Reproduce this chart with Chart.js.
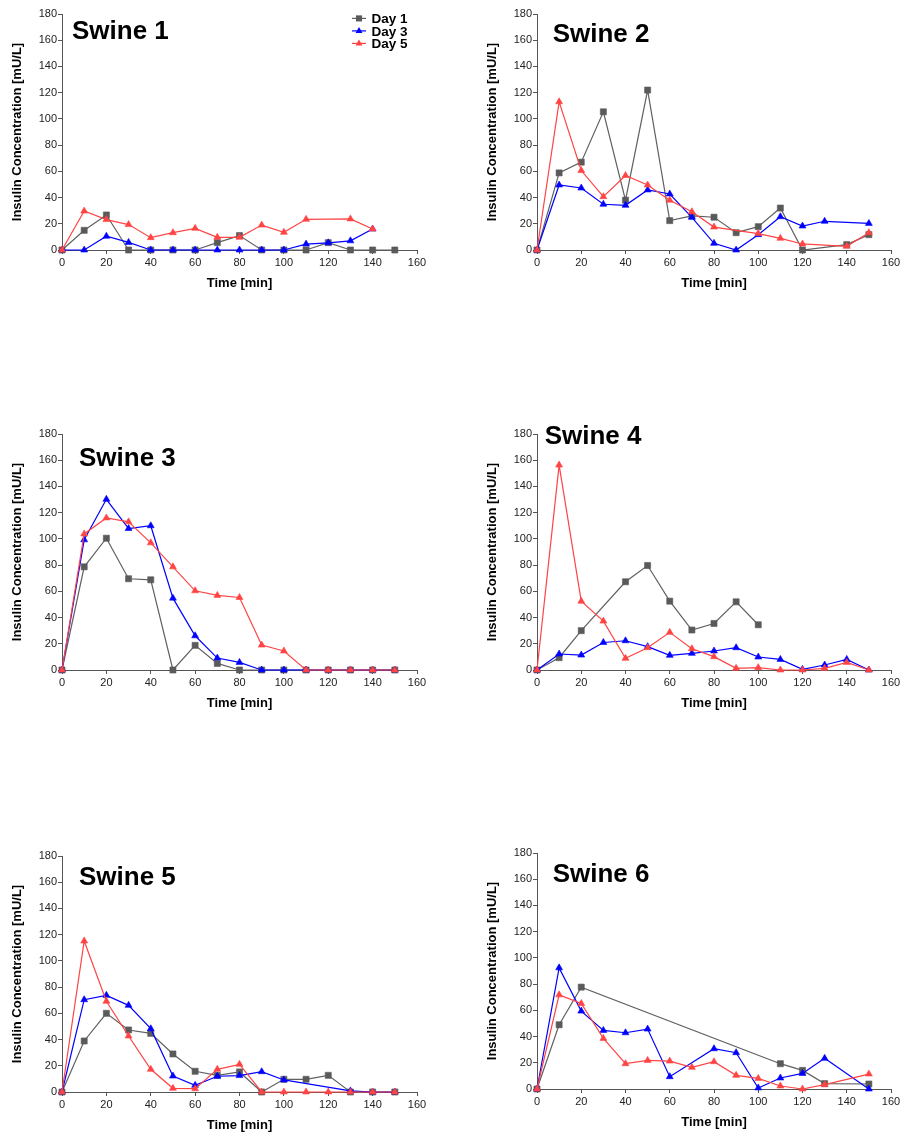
<!DOCTYPE html>
<html>
<head>
<meta charset="utf-8">
<title>Insulin concentration, Swine 1-6</title>
<script src="https://cdn.jsdelivr.net/npm/chart.js"></script>
<style>
  body { margin: 0; background: #fff; width: 904px; height: 1137px; overflow: hidden; position: relative; }
  canvas { position: absolute; }
</style>
</head>
<body>
<canvas id="swine1" width="450" height="300" style="left:0px;top:0px"></canvas>
<canvas id="swine2" width="429" height="300" style="left:475px;top:0px"></canvas>
<canvas id="swine3" width="450" height="300" style="left:0px;top:420px"></canvas>
<canvas id="swine4" width="429" height="300" style="left:475px;top:420px"></canvas>
<canvas id="swine5" width="450" height="295" style="left:0px;top:842px"></canvas>
<canvas id="swine6" width="429" height="298" style="left:475px;top:839px"></canvas>
<script>
// sampling times (min) and tick values
const times = [0, 10, 20, 30, 40, 50, 60, 70, 80, 90, 100, 110, 120, 130, 140, 150];
const xTickValues = [0, 20, 40, 60, 80, 100, 120, 140, 160];
const yTickValues = [0, 20, 40, 60, 80, 100, 120, 140, 160, 180];
const dayLabels = ['Day 1', 'Day 3', 'Day 5'];

// insulin concentration [mU/L], null = no sample
const swine1Day1 = [0, 15, 26.7, 0, 0, 0, 0, 5.6, 11, 0, 0, 0, 5.6, 0, 0, 0];
const swine1Day3 = [0, 0, 10.5, 5.8, 0, 0, 0, 0, 0, 0, 0, 4.5, 5.5, 7, 16, null];
const swine1Day5 = [0, 29.7, 23.2, 19.4, 9.4, 13.2, 16.5, 9.7, 9.7, 19, 13.5, 23.4, null, 23.7, 16, null];

const swine2Day1 = [0, 58.8, 67, 105.4, 38, 122, 22.4, 26, 25, 13.2, 17.8, 32, 0, null, 4.1, 11.7];
const swine2Day3 = [0, 49.6, 47.3, 34.9, 34.1, 45.8, 42.7, 24.9, 5.1, 0, 11.7, 25.4, 18.3, 21.9, null, 20.3];
const swine2Day5 = [0, 113, 60.6, 40.7, 56.8, 49.6, 38, 29.2, 17.5, null, 12.5, 8.9, 4.6, null, 2.8, 13.2];

const swine3Day1 = [0, 78.7, 100.5, 69.6, 68.8, 0, 18.8, 5, 0, 0, 0, 0, 0, 0, 0, 0];
const swine3Day3 = [0, 99.3, 130.2, 107.9, 110, 54.8, 26.1, 9.1, 5.8, 0, 0, 0, 0, 0, 0, 0];
const swine3Day5 = [0, 103.8, 116, 113, 97, 78.7, 60.4, 56.9, 55.3, 19, 14.5, 0, 0, 0, 0, 0];

const swine4Day1 = [0, 9.4, 30, null, 67.3, 79.7, 52.5, 30.5, 35.5, 52, 34.5, null, null, null, null, null];
const swine4Day3 = [0, 12.2, 11.4, 21, 22.3, 17.8, 11.2, 12.7, 14.5, 17, 9.9, 8.1, 0.5, 3.8, 8.1, 0];
const swine4Day5 = [0, 156.3, 52.5, 37.3, 8.9, 17, 28.7, 16.2, 10.2, 1.3, 1.8, 0, 0, 1.3, 5.8, 0];

const swine5Day1 = [0, 38.9, 60, 47.3, 44.7, 29, 15.8, 12.7, 15.3, 0, 9.7, 9.7, 12.7, 0, 0, 0];
const swine5Day3 = [0, 70.4, 73.7, 66.1, 48.3, 12.2, 5.1, 12, 12.5, 15.5, 9.2, null, null, 0.8, 0, 0];
const swine5Day5 = [0, 115.2, 69.2, 42.7, 17.3, 2.8, 2.5, 17.3, 21.1, 0, 0, 0, 0, 0, 0, 0];

const swine6Day1 = [0, 49, 77.7, null, null, null, null, null, null, null, null, 19.3, 14.2, 4.1, null, 3.8];
const swine6Day3 = [0, 92.4, 59.4, 44.7, 42.9, 45.7, 9.4, null, 30.7, 27.7, 0.8, 8.4, 11.9, 23.4, null, 0];
const swine6Day5 = [0, 71.8, 65.2, 38.6, 19.3, 21.8, 21.3, 16.5, 20.8, 10.4, 8.1, 2.3, 0, 3.3, null, 11.4];

Chart.defaults.font.family = "'Liberation Sans', Arial, sans-serif";

const seriesStyle = [
  { color: '#606060', fill: '#5a5a5a', shape: 'rect', r: 4.3, order: 3 },
  { color: '#0000ff', fill: '#0000ff', shape: 'triangle', r: 4, order: 2 },
  { color: '#ff4444', fill: '#ff4444', shape: 'triangle', r: 4, order: 1 }
];

function drawMarker(ctx, shape, x, y, r) {
  ctx.beginPath();
  if (shape === 'rect') {
    const s = r * Math.SQRT1_2;
    ctx.rect(x - s, y - s, 2 * s, 2 * s);
  } else {
    ctx.moveTo(x, y - r);
    ctx.lineTo(x + r * 0.866, y + r / 2);
    ctx.lineTo(x - r * 0.866, y + r / 2);
    ctx.closePath();
  }
  ctx.fill();
}

// panel title and (first panel only) legend
function panelText(title, tx, ty, withLegend) {
  return {
    id: 'panelText',
    afterDraw(chart) {
      const ctx = chart.ctx;
      ctx.save();
      ctx.fillStyle = '#000';
      ctx.textBaseline = 'alphabetic';
      ctx.font = "bold 26px 'Liberation Sans', Arial, sans-serif";
      ctx.fillText(title, tx, ty);
      if (withLegend) {
        ctx.font = "bold 13.5px 'Liberation Sans', Arial, sans-serif";
        dayLabels.forEach((lab, i) => {
          const st = seriesStyle[i];
          const base = 23.3 + i * 12.5;
          const cy = base - 4.9;
          ctx.strokeStyle = st.color;
          ctx.lineWidth = 1.2;
          ctx.beginPath();
          ctx.moveTo(352, cy);
          ctx.lineTo(366, cy);
          ctx.stroke();
          ctx.fillStyle = st.fill;
          drawMarker(ctx, st.shape, 359, cy, st.r);
          ctx.fillStyle = '#000';
          ctx.fillText(lab, 371.5, base);
        });
      }
      ctx.restore();
    }
  };
}

function makePanel(id, title, series, padRight, tx, ty, withLegend) {
  const canvas = document.getElementById(id);
  const datasets = series.map((vals, i) => {
    const st = seriesStyle[i];
    return {
      label: dayLabels[i],
      data: times.map((t, k) => ({ x: t, y: vals[k] })),
      borderColor: st.color,
      backgroundColor: st.fill,
      borderWidth: 1.2,
      pointStyle: st.shape,
      pointRadius: st.r,
      pointBorderWidth: 0.6,
      pointBorderColor: st.fill,
      pointBackgroundColor: st.fill,
      spanGaps: true,
      tension: 0,
      clip: false,
      order: st.order
    };
  });
  const axisColor = '#555';
  new Chart(canvas, {
    type: 'line',
    data: { datasets },
    options: {
      responsive: false,
      animation: false,
      events: [],
      layout: { padding: { left: 0, top: 14, right: padRight, bottom: 0 } },
      plugins: { legend: { display: false }, tooltip: { enabled: false } },
      scales: {
        x: {
          type: 'linear',
          min: 0,
          max: 160,
          afterBuildTicks: s => { s.ticks = xTickValues.map(v => ({ value: v })); },
          afterFit: s => { s.height = canvas.height - 250; },
          grid: { drawOnChartArea: false, tickLength: 4, color: axisColor },
          border: { color: axisColor, width: 1 },
          ticks: { padding: 2, color: '#222', font: { size: 11 }, maxRotation: 0, autoSkip: false },
          title: { display: true, text: 'Time [min]', color: '#000', font: { size: 13, weight: 'bold' }, padding: { top: 0, bottom: 9 - (300 - canvas.height) } }
        },
        y: {
          min: 0,
          max: 180,
          afterBuildTicks: s => { s.ticks = yTickValues.map(v => ({ value: v })); },
          afterFit: s => { s.width = 62; },
          grid: { drawOnChartArea: false, tickLength: 4, color: axisColor },
          border: { color: axisColor, width: 1 },
          ticks: { padding: 1, color: '#222', font: { size: 11 } },
          title: { display: true, text: 'Insulin Concentration [mU/L]', color: '#000', font: { size: 13, weight: 'bold' }, padding: { top: 10, bottom: 0 } }
        }
      }
    },
    plugins: [panelText(title, tx, ty, withLegend)]
  });
}

makePanel('swine1', 'Swine 1', [swine1Day1, swine1Day3, swine1Day5], 33, 72, 39.3, true);
makePanel('swine2', 'Swine 2', [swine2Day1, swine2Day3, swine2Day5], 13, 77.7, 42.3, false);
makePanel('swine3', 'Swine 3', [swine3Day1, swine3Day3, swine3Day5], 33, 79, 45.7, false);
makePanel('swine4', 'Swine 4', [swine4Day1, swine4Day3, swine4Day5], 13, 69.7, 24, false);
makePanel('swine5', 'Swine 5', [swine5Day1, swine5Day3, swine5Day5], 33, 79, 43, false);
makePanel('swine6', 'Swine 6', [swine6Day1, swine6Day3, swine6Day5], 13, 77.7, 43.3, false);
</script>
</body>
</html>
